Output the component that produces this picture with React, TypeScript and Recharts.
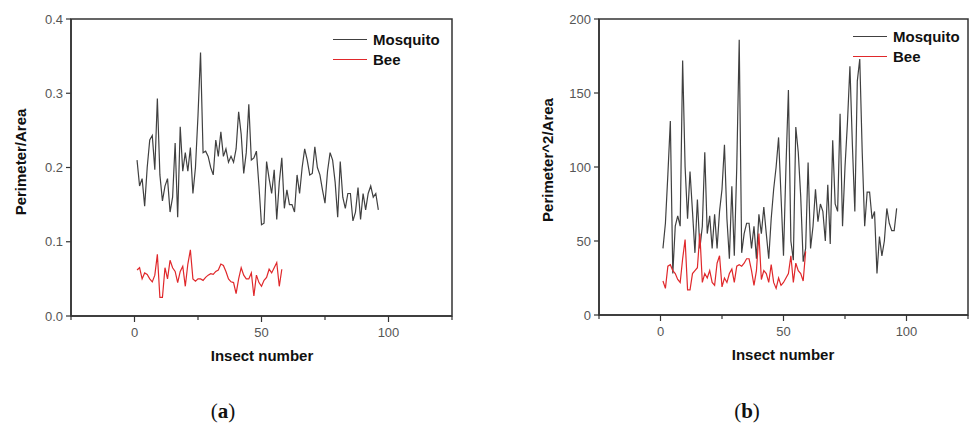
import { LineChart, Line, XAxis, YAxis, ReferenceArea, Legend } from 'recharts'

// panel (a): perimeter / area
const mosquitoRatio = [
  0.21, 0.175, 0.185, 0.148, 0.2, 0.237, 0.243, 0.197, 0.293, 0.19,
  0.155, 0.175, 0.185, 0.14, 0.16, 0.233, 0.133, 0.255, 0.195, 0.22,
  0.195, 0.227, 0.165, 0.2, 0.27, 0.355, 0.22, 0.222, 0.215, 0.2,
  0.19, 0.237, 0.215, 0.248, 0.215, 0.225, 0.207, 0.215, 0.207, 0.225,
  0.275, 0.245, 0.192, 0.22, 0.285, 0.21, 0.213, 0.222, 0.175, 0.123,
  0.125, 0.208, 0.185, 0.165, 0.197, 0.13, 0.18, 0.213, 0.145, 0.17,
  0.15, 0.15, 0.14, 0.19, 0.165, 0.2, 0.225, 0.21, 0.19, 0.192,
  0.228, 0.2, 0.19, 0.17, 0.152, 0.195, 0.22, 0.21, 0.18, 0.133,
  0.208, 0.16, 0.145, 0.165, 0.165, 0.128, 0.14, 0.173, 0.13, 0.165,
  0.143, 0.165, 0.175, 0.16, 0.165, 0.143,
]
const beeRatio = [
  0.062, 0.065, 0.05, 0.058, 0.056, 0.05, 0.046, 0.055, 0.083, 0.025,
  0.025, 0.065, 0.05, 0.075, 0.065, 0.06, 0.045, 0.06, 0.067, 0.04,
  0.07, 0.089, 0.05, 0.047, 0.05, 0.05, 0.048, 0.052, 0.055, 0.057,
  0.056, 0.06, 0.062, 0.07, 0.068, 0.06, 0.05, 0.046, 0.045, 0.03,
  0.05, 0.065, 0.055, 0.05, 0.05, 0.058, 0.027, 0.055, 0.045, 0.04,
  0.048, 0.052, 0.063, 0.058, 0.065, 0.072, 0.04, 0.063,
]

// panel (b): perimeter^2 / area
const mosquitoShape = [
  45, 62, 95, 131, 28, 60, 67, 60, 172, 100,
  65, 97, 70, 42, 78, 45, 60, 110, 55, 67,
  45, 68, 45, 70, 85, 115, 65, 38, 87, 40,
  100, 186, 42, 55, 62, 62, 45, 60, 38, 68,
  55, 73, 55, 38, 65, 85, 100, 120, 80, 40,
  100, 152, 50, 37, 127, 110, 80, 36, 45, 103,
  45, 60, 85, 63, 75, 70, 50, 88, 48, 118,
  75, 70, 136, 60, 100, 130, 168, 115, 70, 158,
  173, 110, 60, 83, 83, 65, 70, 28, 53, 40,
  50, 72, 62, 57, 57, 72,
]
const beeShape = [
  23, 18, 33, 34, 30, 28, 24, 22, 38, 51,
  17, 17, 28, 30, 32, 55, 22, 28, 25, 30,
  22, 20, 35, 40, 19, 25, 22, 28, 31, 22,
  33, 34, 33, 35, 38, 38, 30, 20, 30, 55,
  24, 30, 28, 22, 34, 22, 18, 25, 20, 22,
  25, 28, 40, 22, 35, 30, 28, 23, 43,
]

const xTicks = [-25, 0, 25, 50, 75, 100, 125]
const majorX = [0, 50, 100]
const ratioTicks = [0, 0.1, 0.2, 0.3, 0.4]
const shapeTicks = [0, 50, 100, 150, 200]

const SERIES = [
  { key: 'mosquito', label: 'Mosquito', color: '#404040' },
  { key: 'bee', label: 'Bee', color: '#e0282b' },
]

const SANS = 'Arial, "Liberation Sans", sans-serif'
const AXIS = '#333'

function toRows(a: number[], b: number[]) {
  const n = Math.max(a.length, b.length)
  return Array.from({ length: n }, (_, k) => ({ n: k + 1, mosquito: a[k], bee: b[k] }))
}

function XTick({ x, y, payload }: any) {
  const major = majorX.includes(payload.value)
  return (
    <g>
      <line x1={x} x2={x} y1={y} y2={y + (major ? 6 : 4)} stroke={AXIS} strokeWidth={1.2} />
      {major && (
        <text x={x} y={y + 21} textAnchor="middle" fill="#555" fontSize={13} fontFamily={SANS}>
          {payload.value}
        </text>
      )}
    </g>
  )
}

function legendContent() {
  return (
    <div style={{ fontFamily: SANS, fontWeight: 'bold', fontSize: 15, color: '#111' }}>
      {SERIES.map((s) => (
        <div key={s.key} style={{ display: 'flex', alignItems: 'center', height: 20 }}>
          <span style={{ width: 34, borderTop: `1.2px solid ${s.color}`, marginRight: 6 }} />
          {s.label}
        </div>
      ))}
    </div>
  )
}

interface PanelProps {
  width: number
  rows: { n: number; mosquito?: number; bee?: number }[]
  yTicks: number[]
  yMax: number
  fmt?: (v: number) => string
  margin: { top: number; right: number; bottom: number; left: number }
  legendPos: { left: number; top: number }
}

function Panel({ width, rows, yTicks, yMax, fmt, margin, legendPos }: PanelProps) {
  return (
    <LineChart width={width} height={425} data={rows} margin={margin}>
      <XAxis
        dataKey="n"
        type="number"
        domain={[-25, 125]}
        ticks={xTicks}
        interval={0}
        tick={<XTick />}
        tickLine={false}
        tickSize={0}
        tickMargin={0}
        height={30}
        axisLine={{ stroke: AXIS, strokeWidth: 1.5 }}
      />
      <YAxis
        type="number"
        domain={[0, yMax]}
        ticks={yTicks}
        tickFormatter={fmt}
        width={51}
        tickSize={5}
        tickMargin={3}
        tick={{ fill: '#555', fontSize: 13, fontFamily: SANS }}
        tickLine={{ stroke: AXIS, strokeWidth: 1.2 }}
        axisLine={{ stroke: AXIS, strokeWidth: 1.5 }}
      />
      <ReferenceArea x1={-25} x2={125} y1={0} y2={yMax} fill="none" stroke={AXIS} strokeWidth={1.5} ifOverflow="visible" />
      <Legend
        content={legendContent}
        verticalAlign="middle"
        wrapperStyle={{ position: 'absolute', left: legendPos.left, top: legendPos.top, width: 140 }}
      />
      {SERIES.map((s) => (
        <Line
          key={s.key}
          dataKey={s.key}
          name={s.label}
          stroke={s.color}
          strokeWidth={1.2}
          dot={false}
          activeDot={false}
          isAnimationActive={false}
        />
      ))}
    </LineChart>
  )
}

const titleStyle = {
  position: 'absolute' as const,
  fontFamily: SANS,
  fontWeight: 'bold' as const,
  fontSize: 15,
  color: '#111',
  whiteSpace: 'nowrap' as const,
  transform: 'translate(-50%, -50%)',
}

const captionStyle = {
  position: 'absolute' as const,
  fontFamily: '"Liberation Serif", "Times New Roman", serif',
  fontSize: 21,
  color: '#111',
  transform: 'translate(-50%, -50%)',
}

export default function App() {
  return (
    <div style={{ position: 'absolute', left: 0, top: 0, width: 969, height: 425, background: '#fff', overflow: 'hidden' }}>
      <div style={{ position: 'absolute', left: 0, top: 0, width: 480, height: 425 }}>
        <Panel
          width={480}
          rows={toRows(mosquitoRatio, beeRatio)}
          yTicks={ratioTicks}
          yMax={0.4}
          fmt={(v) => v.toFixed(1)}
          margin={{ top: 19, right: 28, bottom: 79, left: 20 }}
          legendPos={{ left: 333, top: 29 }}
        />
      </div>
      <div style={{ position: 'absolute', left: 480, top: 0, width: 489, height: 425 }}>
        <Panel
          width={489}
          rows={toRows(mosquitoShape, beeShape)}
          yTicks={shapeTicks}
          yMax={200}
          margin={{ top: 19, right: 1, bottom: 80, left: 68 }}
          legendPos={{ left: 373, top: 26 }}
        />
      </div>
      <div style={{ ...titleStyle, left: 20, top: 162, transform: 'translate(-50%, -50%) rotate(-90deg)' }}>Perimeter/Area</div>
      <div style={{ ...titleStyle, left: 262, top: 355 }}>Insect number</div>
      <div style={{ ...titleStyle, left: 547, top: 160, transform: 'translate(-50%, -50%) rotate(-90deg)' }}>Perimeter^2/Area</div>
      <div style={{ ...titleStyle, left: 783, top: 354 }}>Insect number</div>
      <div style={{ ...captionStyle, left: 223, top: 411 }}>(<b>a</b>)</div>
      <div style={{ ...captionStyle, left: 747, top: 411 }}>(<b>b</b>)</div>
    </div>
  )
}
